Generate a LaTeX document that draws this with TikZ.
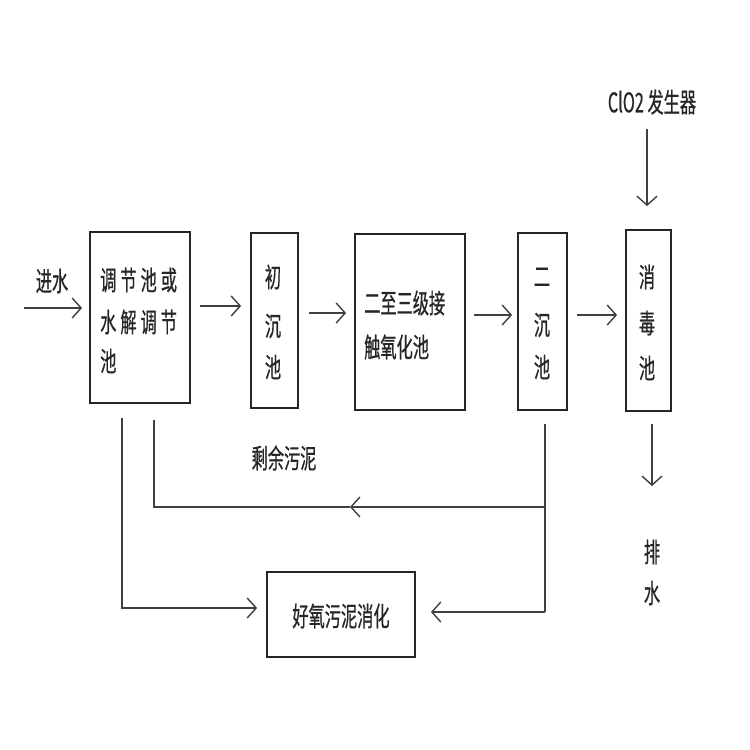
\documentclass[tikz,border=0pt]{standalone}
\usepackage{fontspec}
\newfontfamily\cjk[FakeStretch=0.6,FakeBold=0.6]{Noto Sans CJK SC}
\usetikzlibrary{arrows.meta}
\newcommand{\gp}{\hspace{4pt}}
\begin{document}
\begin{tikzpicture}[x=1pt,y=-1pt,
  box/.style={draw=black!85,line width=1.8pt,inner sep=0pt,fill=none},
  txt/.style={font=\cjk\fontsize{27}{27}\selectfont,inner sep=0pt,text=black!85},
  ln/.style={draw=black!75,line width=1.5pt},
  arr/.style={ln,-{Straight Barb[length=9pt,width=20pt,line width=1.4pt]}}]
\fill[white] (0,0) rectangle (750,750);
\useasboundingbox (0,0) rectangle (750,750);
% boxes
\node[box,minimum width=100pt,minimum height=171pt] (b1) at (140,317.5) {};
\node[box,minimum width=47pt,minimum height=175pt] (b2) at (274.5,320.5) {};
\node[box,minimum width=110pt,minimum height=176pt] (b3) at (410,322) {};
\node[box,minimum width=49pt,minimum height=177pt] (b4) at (542.5,321.5) {};
\node[box,minimum width=45pt,minimum height=181pt] (b5) at (648.5,320.5) {};
\node[box,minimum width=148pt,minimum height=85pt] (b6) at (341,614.5) {};
% texts
\node[txt,anchor=west] (t1a) at (100,280) {调\gp 节\gp 池\gp 或};
\node[txt,anchor=west] (t1b) at (100,322) {水\gp 解\gp 调\gp 节};
\node[txt,anchor=west] (t1c) at (100,361) {池};
\node[txt] (t2a) at (273,277) {初};
\node[txt] (t2b) at (273,326) {沉};
\node[txt] (t2c) at (273,367) {池};
\node[txt,anchor=west] (t3a) at (364,303) {二至三级接};
\node[txt,anchor=west] (t3b) at (364,347) {触氧化池};
\node[txt] (t4a) at (542,277) {二};
\node[txt] (t4b) at (542,325) {沉};
\node[txt] (t4c) at (542,367) {池};
\node[txt] (t5a) at (647,277) {消};
\node[txt] (t5b) at (647,323) {毒};
\node[txt] (t5c) at (647,368) {池};
\node[txt] (t6) at (341,616) {好氧污泥消化};
\node[txt] (lin) at (52,281) {进水};
\node[txt] (lsl) at (284,458) {剩余污泥};
\node[txt] (lclo) at (652,102) {ClO2 发生器};
\node[txt] (lout1) at (652,552) {排};
\node[txt] (lout2) at (652,593) {水};
% coordinates
\coordinate (inS) at (24,308);
\coordinate (outE) at (652,486);
\coordinate (mid) at (350,507);
% main flow
\draw[arr,shorten >=7pt] (inS) -- (inS -| b1.west);
\draw[arr,shorten <=9pt,shorten >=9pt] (b1.east |- 0,306) -- (b2.west |- 0,306);
\draw[arr,shorten <=10pt,shorten >=8pt] (b2.east |- 0,313) -- (b3.west |- 0,313);
\draw[arr,shorten <=8pt,shorten >=5pt] (b3.east |- 0,315) -- (b4.west |- 0,315);
\draw[arr,shorten <=9pt,shorten >=8pt] (b4.east |- 0,315) -- (b5.west |- 0,315);
\draw[arr,shorten <=14pt,shorten >=23pt] (lclo.south -| 647,0) -- (b5.north -| 647,0);
\draw[arr,shorten <=12pt] (b5.south -| outE) -- (outE);
% sludge lines
\draw[arr,shorten <=14pt,shorten >=9pt] (b1.south -| 122,0) -- (122,608) -- (b6.west |- 0,608);
\draw[ln,shorten <=13pt] (b4.south -| 545,0) -- (545,612);
\draw[arr,shorten >=15pt] (545,612) -- (b6.east |- 0,612);
\draw[arr] (545,507) -- (mid);
\draw[ln,shorten >=16pt] (mid) -- (154,507) -- (b1.south -| 154,0);
\end{tikzpicture}
\end{document}
